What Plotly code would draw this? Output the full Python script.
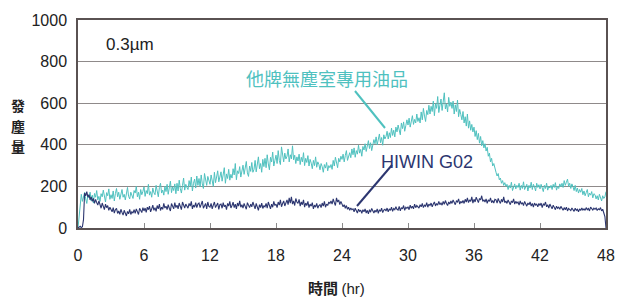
import plotly.graph_objects as go

# time axis: every 0.1 hr from 0 to 48
hours = [round(i * 0.1, 1) for i in range(481)]

other_brand = [
    0, 60, 135, 162, 128, 150, 171, 140, 118, 160,
    145, 172, 130, 158, 120, 166, 148, 180, 135, 152,
    128, 165, 150, 182, 140, 125, 170, 155, 188, 138,
    160, 142, 178, 130, 165, 190, 150, 172, 138, 168,
    185, 148, 162, 135, 178, 195, 152, 140, 172, 158,
    142, 180, 168, 200, 150, 172, 138, 185, 160, 176,
    198, 152, 180, 165, 210, 158, 175, 148, 192, 170,
    160, 205, 178, 150, 195, 215, 168, 182, 158, 200,
    175, 210, 162, 192, 225, 170, 198, 180, 212, 165,
    215, 178, 230, 190, 168, 205, 240, 182, 210, 195,
    185, 228, 200, 245, 178, 215, 235, 192, 250, 205,
    238, 198, 255, 212, 190, 262, 225, 205, 248, 220,
    210, 255, 230, 200, 268, 218, 245, 275, 222, 240,
    270, 225, 252, 290, 215, 260, 238, 282, 230, 258,
    240, 285, 255, 310, 232, 275, 262, 295, 245, 280,
    302, 258, 285, 320, 265, 248, 298, 272, 315, 268,
    282, 325, 270, 300, 342, 285, 310, 268, 330, 295,
    335, 290, 352, 308, 280, 340, 318, 365, 298, 325,
    350, 310, 372, 325, 305, 390, 338, 318, 360, 332,
    345, 380, 318, 352, 332, 395, 328, 350, 310, 342,
    322, 355, 305, 340, 318, 362, 300, 335, 315, 348,
    298, 330, 312, 285, 325, 300, 342, 292, 318, 305,
    280, 310, 295, 268, 305, 288, 315, 275, 300, 290,
    305, 282, 325, 298, 340, 312, 290, 335, 318, 345,
    330, 355, 318, 348, 372, 325, 345, 362, 338, 380,
    352, 385, 340, 372, 355, 398, 360, 378, 345, 392,
    375, 405, 368, 395, 420, 382, 410, 372, 398, 425,
    405, 438, 400, 425, 452, 410, 435, 398, 448, 428,
    440, 465, 428, 458, 435, 480, 445, 470, 438, 485,
    462, 495, 470, 448, 505, 478, 510, 465, 492, 520,
    495, 528, 485, 515, 540, 498, 522, 505, 548, 512,
    530, 505, 558, 520, 575, 538, 512, 565, 545, 590,
    548, 585, 560, 610, 540, 598, 575, 632, 555, 590,
    620, 565, 600, 650, 572, 595, 558, 628, 585, 605,
    575, 610, 548, 592, 560, 615, 535, 570, 545, 520,
    560, 505, 535, 490, 548, 480, 515, 470, 498, 462,
    485, 440, 468, 425, 455, 408, 440, 395, 420, 385,
    405, 370, 388, 345, 360, 318, 335, 298, 310, 280,
    268, 250, 262, 232, 240, 215, 228, 205, 218, 200,
    210, 185, 205, 192, 220, 180, 198, 212, 188, 205,
    195, 215, 182, 205, 190, 222, 185, 200, 210, 178,
    205, 192, 220, 185, 210, 198, 178, 215, 195, 208,
    188, 210, 195, 175, 205, 190, 215, 182, 200, 192,
    205, 185, 210, 195, 218, 182, 200, 190, 212, 198,
    215, 195, 228, 205, 220, 235, 200, 215, 190, 212,
    198, 180, 205, 175, 192, 168, 185, 172, 190, 160,
    178, 155, 170, 185, 150, 168, 158, 175, 145, 165,
    160, 140, 155, 135, 162, 148, 130, 155, 142, 150,
    175,
]

hiwin_g02 = [
    0, 3, 8, 2, 6, 40, 168, 155, 175, 148,
    160, 135, 150, 128, 142, 118, 138, 122, 110, 130,
    112, 95, 120, 102, 88, 115, 98, 108, 85, 100,
    92, 78, 98, 72, 88, 95, 70, 82, 66, 90,
    75, 62, 85, 70, 58, 80, 68, 90, 65, 78,
    72, 88, 70, 92, 78, 65, 95, 80, 74, 98,
    82, 96, 75, 100, 88, 105, 78, 92, 110, 85,
    98, 80, 108, 92, 115, 84, 100, 90, 118, 96,
    105, 88, 112, 95, 82, 118, 100, 92, 122, 98,
    110, 92, 120, 100, 88, 125, 105, 96, 115, 102,
    95, 118, 105, 128, 92, 110, 100, 122, 98, 115,
    120, 98, 112, 130, 95, 108, 118, 92, 125, 104,
    100, 118, 92, 110, 125, 98, 106, 120, 90, 112,
    115, 95, 122, 102, 110, 88, 118, 105, 128, 96,
    108, 124, 98, 115, 92, 120, 105, 130, 100, 112,
    96, 118, 104, 90, 122, 108, 98, 115, 102, 125,
    110, 92, 118, 100, 85, 112, 98, 120, 94, 106,
    102, 118, 95, 125, 105, 92, 115, 100, 128, 108,
    115, 98, 125, 110, 135, 102, 118, 130, 106, 122,
    135, 112, 145, 120, 150, 115, 130, 108, 142, 125,
    118, 138, 105, 125, 112, 135, 100, 120, 108, 128,
    98, 115, 105, 122, 92, 110, 100, 118, 95, 108,
    112, 98, 120, 105, 128, 100, 115, 108, 125, 118,
    130, 115, 140, 122, 108, 145, 125, 135, 112, 128,
    118, 102, 112, 95, 108, 90, 100, 85, 96, 88,
    92, 78, 95, 82, 72, 90, 80, 86, 70, 88,
    78, 92, 72, 85, 68, 88, 76, 94, 80, 72,
    85, 76, 92, 70, 88, 80, 95, 74, 86, 90,
    82, 96, 78, 92, 85, 100, 80, 94, 88, 102,
    90, 86, 104, 82, 98, 92, 108, 85, 100, 94,
    102, 88, 110, 95, 105, 92, 115, 98, 108, 100,
    96, 112, 102, 118, 98, 110, 105, 122, 100, 115,
    108, 120, 102, 115, 125, 106, 118, 110, 128, 112,
    120, 110, 128, 114, 132, 118, 108, 125, 115, 130,
    118, 135, 122, 112, 130, 125, 140, 115, 128, 120,
    132, 118, 138, 125, 145, 122, 135, 128, 150, 120,
    138, 125, 148, 130, 122, 142, 135, 155, 128, 136,
    125, 140, 118, 135, 128, 145, 122, 132, 120, 138,
    135, 120, 142, 128, 118, 138, 125, 150, 122, 130,
    118, 135, 125, 112, 130, 122, 140, 115, 128, 120,
    125, 110, 130, 115, 122, 108, 128, 118, 105, 120,
    112, 125, 105, 118, 100, 120, 110, 115, 102, 118,
    108, 120, 98, 115, 110, 125, 102, 112, 96, 115,
    102, 92, 110, 98, 88, 105, 95, 100, 90, 104,
    95, 85, 98, 88, 100, 82, 94, 90, 84, 96,
    88, 80, 95, 85, 90, 78, 92, 84, 96, 86,
    92, 85, 98, 88, 94, 82, 100, 90, 86, 95,
    90, 96, 84, 92, 88, 98, 82, 90, 75, 55,
    0,
]

x_ticks = [0, 6, 12, 18, 24, 30, 36, 42, 48]
y_ticks = [0, 200, 400, 600, 800, 1000]
y_title_chars = ["發", "塵", "量"]

CYAN = "#4fc1bf"
NAVY = "#2c3670"
FONT = "Liberation Sans, Arial, sans-serif"
CJK = "Noto Sans CJK TC, Noto Sans CJK SC, sans-serif"

# full-window figure (body margin removed by post_script); plot area x 78..606, y 20..228
FW, FH = 618, 298
L, R, T, B = 78, 12, 20, 70
W, H = FW - L - R, FH - T - B


def px(x, y):
    return (x - L) / W, (FH - B - y) / H


fig = go.Figure()
fig.add_trace(go.Scatter(x=hours, y=other_brand, mode="lines",
                         line=dict(color=CYAN, width=1), name="他牌無塵室專用油品"))
fig.add_trace(go.Scatter(x=hours, y=hiwin_g02, mode="lines",
                         line=dict(color=NAVY, width=1.1), name="HIWIN G02"))

fig.update_layout(
    width=FW, height=FH,
    margin=dict(l=L, r=R, t=T, b=B, autoexpand=False),
    paper_bgcolor="white", plot_bgcolor="white",
    showlegend=False,
    font=dict(family=FONT, color="#222222", size=16),
)
fig.update_xaxes(
    range=[0, 48], tickvals=x_ticks, ticktext=[str(v) for v in x_ticks],
    showgrid=False, zeroline=False, automargin=False,
    showline=True, linecolor="#5a5252", linewidth=1.5, mirror=True,
    ticks="inside", ticklen=5, tickcolor="#8a8a8a", tickwidth=1,
    tickfont=dict(size=16, family=FONT, color="#222222"),
    ticklabelstandoff=12,
)
fig.update_yaxes(
    range=[0, 1000], tickvals=y_ticks, ticktext=[str(v) for v in y_ticks],
    showgrid=True, gridcolor="#8f8a8a", gridwidth=1, zeroline=False, automargin=False,
    showline=True, linecolor="#5a5252", linewidth=1.5, mirror=True,
    ticks="", tickfont=dict(size=16, family=FONT, color="#222222"),
    ticklabelstandoff=6,
)


def label(x, y, text, size, family, color):
    ax, ay = px(x, y)
    fig.add_annotation(x=ax, y=ay, xref="paper", yref="paper", text=text,
                       xanchor="center", yanchor="middle", showarrow=False,
                       borderpad=0,
                       font=dict(size=size, family=family, color=color))


def leader(xa, ya, xb, yb, color):
    x0, y0 = px(xa, ya)
    x1, y1 = px(xb, yb)
    fig.add_shape(type="line", xref="paper", yref="paper", x0=x0, y0=y0, x1=x1, y1=y1,
                  line=dict(color=color, width=2))


label(130, 44, "0.3µm", 17, FONT, "#222222")
label(327, 78, "他牌無塵室專用油品", 18, CJK, CYAN)
label(427, 162, "HIWIN G02", 18, FONT, NAVY)
leader(355, 91, 385, 128, CYAN)
leader(392, 165, 357, 206, NAVY)
for i, ch in enumerate(y_title_chars):
    label(18, 105 + i * 20.5, "<b>" + ch + "</b>", 14, CJK, "#222222")
label(336, 287, "<b>時間</b> <span style='font-family:Liberation Sans'>(hr)</span>",
      15, CJK, "#222222")

fig.write_html("out.html", config={"displayModeBar": False},
               post_script="document.body.style.margin='0px';document.body.style.overflow='hidden';")
